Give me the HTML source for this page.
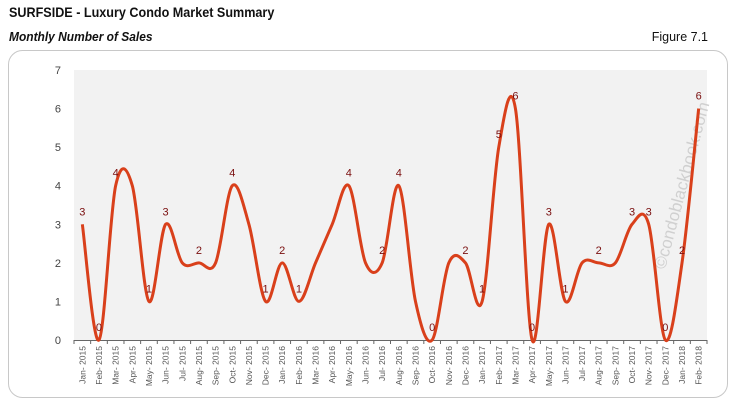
<!DOCTYPE html>
<html><head><meta charset="utf-8">
<style>
body{margin:0;width:733px;height:406px;background:#fff;font-family:"Liberation Sans",Arial,sans-serif;overflow:hidden;position:relative}
.t{position:absolute;left:9px;top:4px;font-size:14px;font-weight:bold;color:#111;transform:scaleX(0.9);transform-origin:left}
.s{position:absolute;left:9px;top:29px;font-size:13px;font-weight:bold;font-style:italic;color:#111;transform:scaleX(0.92);transform-origin:left}
.f{position:absolute;right:25px;top:30px;font-size:12.5px;color:#111}
</style></head><body>
<div class="t">SURFSIDE - Luxury Condo Market Summary</div>
<div class="s">Monthly Number of Sales</div>
<div class="f">Figure 7.1</div>
<svg id="c" width="733" height="406" style="position:absolute;left:0;top:0">
<rect x="8.5" y="50.5" width="719" height="347" rx="14" fill="none" stroke="#c8c8c8"/>
<rect x="74" y="70" width="633" height="270" fill="#f2f2f2"/>
<text x="665" y="270" transform="rotate(-75 665 270)" font-size="17" fill="#d0d0d0">©condoblackbook.com</text>
</svg>
<script>
const categories=["Jan- 2015","Feb- 2015","Mar- 2015","Apr- 2015","May- 2015","Jun- 2015","Jul- 2015","Aug- 2015","Sep- 2015","Oct- 2015","Nov- 2015","Dec- 2015","Jan- 2016","Feb- 2016","Mar- 2016","Apr- 2016","May- 2016","Jun- 2016","Jul- 2016","Aug- 2016","Sep- 2016","Oct- 2016","Nov- 2016","Dec- 2016","Jan- 2017","Feb- 2017","Mar- 2017","Apr- 2017","May- 2017","Jun- 2017","Jul- 2017","Aug- 2017","Sep- 2017","Oct- 2017","Nov- 2017","Dec- 2017","Jan- 2018","Feb- 2018"];
const sales=[3,0,4,4,1,3,2,2,2,4,3,1,2,1,2,3,4,2,2,4,1,0,2,2,1,5,6,0,3,1,2,2,2,3,3,0,2,6];
const showLabel=[1,1,1,0,1,1,0,1,0,1,0,1,1,1,0,0,1,0,1,1,0,1,0,1,1,1,1,1,1,1,0,1,0,1,1,1,1,1];
const yTicks=[0,1,2,3,4,5,6,7];
const svg=document.getElementById('c');const NS='http://www.w3.org/2000/svg';
const X0=74,X1=707,Y0=340,Y1=70,YMAX=7;
const bw=(X1-X0)/categories.length;
const xs=i=>X0+bw*(i+0.5);
const ys=v=>Y0-(v/YMAX)*(Y0-Y1);
function mk(t,a,txt){const e=document.createElementNS(NS,t);for(const k in a)e.setAttribute(k,a[k]);if(txt!==undefined)e.textContent=txt;svg.appendChild(e);return e;}
yTicks.forEach(v=>{const e=mk('text',{x:61,y:ys(v)+4,'font-size':11,fill:'#444','text-anchor':'end'},v);

});
const ax=mk('line',{x1:X0,x2:X1,y1:Y0+0.5,y2:Y0+0.5,stroke:'#666'});


for(let i=0;i<=categories.length;i++){const tk=mk('line',{x1:X0+bw*i,x2:X0+bw*i,y1:Y0,y2:Y0+4,stroke:'#666'});

}
categories.forEach((c,i)=>{const x=xs(i)+3,y=Y0+6;const e=mk('text',{x:x,y:y,'font-size':8.5,fill:'#555','text-anchor':'end',transform:`rotate(-90 ${x} ${y})`},c);

});
const P=sales.map((v,i)=>[xs(i),ys(v)]);
let d=`M${P[0][0]},${P[0][1]}`;
for(let i=0;i<P.length-1;i++){const p0=P[Math.max(i-1,0)],p1=P[i],p2=P[i+1],p3=P[Math.min(i+2,P.length-1)];const t=1/6;
d+=` C${p1[0]+(p2[0]-p0[0])*t},${p1[1]+(p2[1]-p0[1])*t} ${p2[0]-(p3[0]-p1[0])*t},${p2[1]-(p3[1]-p1[1])*t} ${p2[0]},${p2[1]}`;}
const ln=mk('path',{d:d,fill:'none',stroke:'#d9401b','stroke-width':3,'stroke-linejoin':'round'});


sales.forEach((v,i)=>{if(!showLabel[i])return;const e=mk('text',{x:xs(i),y:ys(v)-9,'font-size':11,fill:'#7a0f0f','text-anchor':'middle'},v);

});
</script>
</body></html>
